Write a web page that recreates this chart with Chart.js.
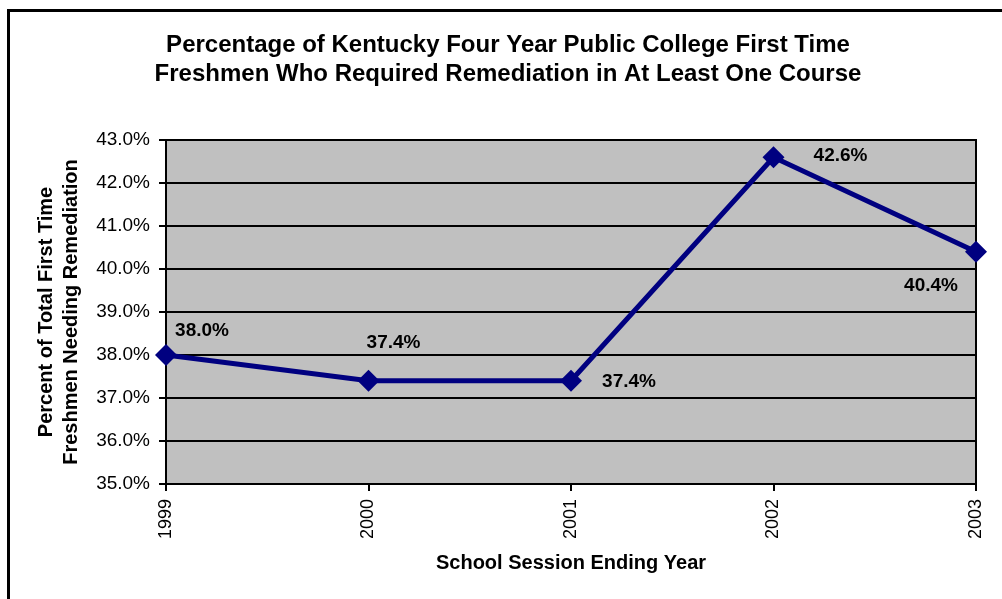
<!DOCTYPE html>
<html>
<head>
<meta charset="utf-8">
<script src="https://cdn.jsdelivr.net/npm/chart.js@4/dist/chart.umd.min.js"></script>
<style>
  html, body { margin: 0; padding: 0; background: #ffffff; }
  #wrap { width: 1002px; height: 599px; position: relative; }
</style>
</head>
<body>
<div id="wrap"><canvas id="chart" width="1002" height="599"></canvas></div>
<script>
// School session ending years and remediation rates (percent)
const years = ['1999', '2000', '2001', '2002', '2003'];
const remediationPct = [38.0, 37.4, 37.4, 42.6, 40.4];
const yTickMin = 35;
const yTickMax = 43;
const yTickStep = 1;

const chartTitle = [
  'Percentage of Kentucky Four Year Public College First Time',
  'Freshmen Who Required Remediation in At Least One Course'
];
const yAxisTitle = ['Percent of Total First Time', 'Freshmen Needing Remediation'];
const xAxisTitle = 'School Session Ending Year';

const FONT = "'Liberation Sans', Arial, Helvetica, sans-serif";

// Where each value label sits relative to its marker (dx, dy in px)
const labelOffsets = [[36, -24], [25, -38], [58, 1], [67, -1], [-45, 34]];

// Outer frame, grey plot background and plot border
const framePlugin = {
  id: 'frame',
  beforeDraw(chart) {
    const { ctx, chartArea: a } = chart;
    ctx.save();
    ctx.fillStyle = '#ffffff';
    ctx.fillRect(0, 0, chart.width, chart.height);
    ctx.fillStyle = '#000000';
    ctx.fillRect(7, 9, 3, chart.height - 9);
    ctx.fillRect(7, 9, chart.width - 7, 3);
    ctx.fillStyle = '#c0c0c0';
    ctx.fillRect(a.left, a.top, a.right - a.left, a.bottom - a.top);
    ctx.restore();
  },
  beforeDatasetsDraw(chart) {
    const { ctx, chartArea: a } = chart;
    ctx.save();
    ctx.strokeStyle = '#000000';
    ctx.lineWidth = 2;
    ctx.strokeRect(a.left, a.top, a.right - a.left, a.bottom - a.top);
    ctx.restore();
  }
};

// Value labels next to each marker
const valueLabelPlugin = {
  id: 'valueLabels',
  afterDatasetsDraw(chart) {
    const { ctx } = chart;
    const meta = chart.getDatasetMeta(0);
    const values = chart.data.datasets[0].data;
    ctx.save();
    ctx.font = 'bold 19px ' + FONT;
    ctx.fillStyle = '#000000';
    ctx.textAlign = 'center';
    ctx.textBaseline = 'middle';
    meta.data.forEach((pt, i) => {
      const [dx, dy] = labelOffsets[i];
      ctx.fillText(values[i].toFixed(1) + '%', pt.x + dx, pt.y + dy);
    });
    ctx.restore();
  }
};

new Chart(document.getElementById('chart'), {
  type: 'line',
  data: {
    labels: years,
    datasets: [{
      data: remediationPct,
      borderColor: '#000080',
      backgroundColor: '#000080',
      borderWidth: 5,
      pointStyle: 'rectRot',
      pointRadius: 11,
      pointBorderWidth: 0,
      pointBackgroundColor: '#000080',
      tension: 0,
      clip: false
    }]
  },
  options: {
    responsive: false,
    animation: false,
    devicePixelRatio: 1,
    layout: { padding: { left: 14, right: 0, top: 0, bottom: 0 } },
    plugins: {
      legend: { display: false },
      tooltip: { enabled: false },
      title: {
        display: true,
        text: chartTitle,
        color: '#000000',
        font: { family: FONT, size: 24, weight: 'bold', lineHeight: '29px' },
        padding: { top: 30.5, bottom: 51.5 }
      }
    },
    scales: {
      x: {
        offset: false,
        grid: {
          drawOnChartArea: false,
          drawTicks: true,
          tickLength: 7,
          color: '#000000',
          lineWidth: 2
        },
        border: { color: '#000000', width: 2 },
        ticks: {
          color: '#000000',
          font: { family: FONT, size: 18 },
          minRotation: 90,
          maxRotation: 90,
          padding: 8,
          autoSkip: false
        },
        title: {
          display: true,
          text: xAxisTitle,
          color: '#000000',
          font: { family: FONT, size: 20, weight: 'bold', lineHeight: '24px' },
          padding: { top: 0, bottom: 24 }
        },
        afterFit(scale) {
          scale.height = 115;
          scale.paddingRight = 26;
          scale.paddingLeft = 0;
        }
      },
      y: {
        min: yTickMin,
        max: yTickMax,
        grid: {
          color: '#000000',
          lineWidth: 2,
          drawTicks: true,
          tickLength: 7
        },
        border: { color: '#000000', width: 2 },
        ticks: {
          stepSize: yTickStep,
          color: '#000000',
          font: { family: FONT, size: 19 },
          padding: 9,
          callback: (v) => Number(v).toFixed(1) + '%'
        },
        title: {
          display: true,
          text: yAxisTitle,
          color: '#000000',
          font: { family: FONT, size: 20, weight: 'bold', lineHeight: '25px' },
          padding: { top: 20, bottom: 0 }
        },
        afterFit(scale) {
          scale.width = 152;
        }
      }
    }
  },
  plugins: [framePlugin, valueLabelPlugin]
});
</script>
</body>
</html>
